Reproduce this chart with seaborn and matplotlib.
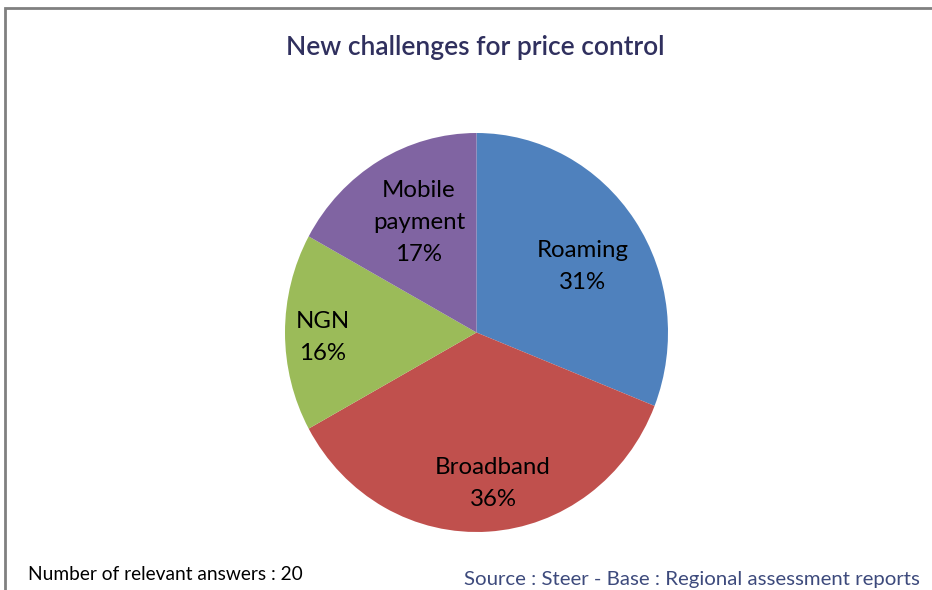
import matplotlib
matplotlib.use("Agg")
import numpy as np
import matplotlib.pyplot as plt
from matplotlib.patches import Rectangle
import seaborn as sns

# Data
categories = ["Roaming", "Broadband", "NGN", "Mobile\npayment"]
shares = [31, 36, 16, 17]
slice_colors = ["#4F81BD", "#C0504D", "#9BBB59", "#8064A2"]
# label placement (radius, angle nudge in degrees) like the Excel layout
label_r = [0.647, 0.762, 0.802, 0.628]
label_shift = [-3.4, 2.9, 1.8, -2.0]

title = "New challenges for price control"
note = "Number of relevant answers : 20"
source = "Source : Steer - Base : Regional assessment reports"

sns.set_theme(style="white")
plt.rcParams["font.family"] = ["Lato", "DejaVu Sans"]

fig = plt.figure(figsize=(9.32, 5.90), dpi=100)
fig.patch.set_facecolor("white")

# chart frame (left/top border visible, runs off the right and bottom)
fig.patches.append(Rectangle((5 / 932, -0.05), 1.2, (590 - 8) / 590 + 0.05,
                             transform=fig.transFigure, fill=False,
                             edgecolor="#808080", linewidth=2))

ax = fig.add_axes([285 / 932, 58 / 590, 383 / 932, 399 / 590])
labels = [f"{c}\n{v}%" for c, v in zip(categories, shares)]
wedges, texts = ax.pie(shares, labels=labels, colors=slice_colors,
                       startangle=90, counterclock=False,
                       labeldistance=0.7,
                       wedgeprops=dict(linewidth=0),
                       textprops=dict(fontsize=17.3, color="black",
                                      ha="center", va="center",
                                      linespacing=1.65))
for w, t, r, s in zip(wedges, texts, label_r, label_shift):
    ang = np.deg2rad((w.theta1 + w.theta2) / 2 + s)
    t.set_position((r * np.cos(ang), r * np.sin(ang)))
    t.set_horizontalalignment("center")
    t.set_verticalalignment("center")
ax.set_aspect("auto")
ax.set_xlim(-1, 1)
ax.set_ylim(-1, 1)
ax.axis("off")

fig.text(475 / 932, 1 - 48 / 590, title, ha="center", va="center",
         fontsize=19, fontweight="semibold", color="#30305e")
fig.text(28 / 932, 1 - 574 / 590, note, ha="left", va="center",
         fontsize=13.8, color="black")
fig.text(920 / 932, 1 - 580 / 590, source, ha="right", va="center",
         fontsize=14.7, color="#3d4a7c")

fig.savefig("out.png", dpi=100)
